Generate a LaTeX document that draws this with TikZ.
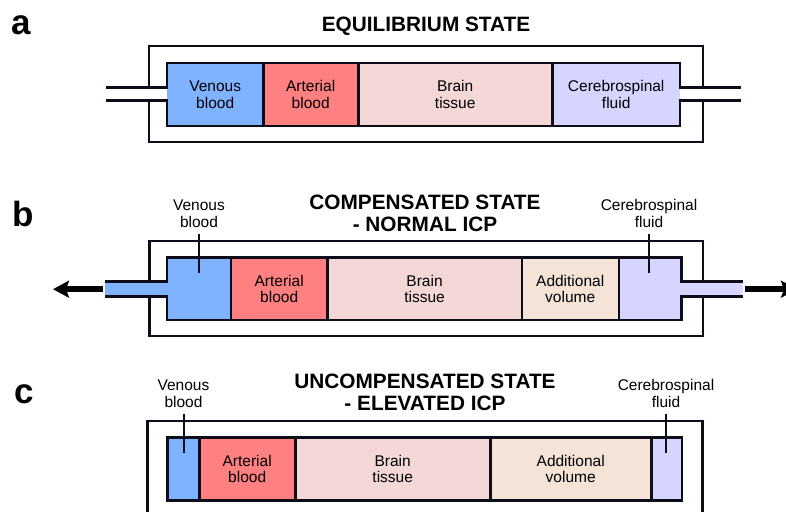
\documentclass[tikz,border=0pt]{standalone}
\usepackage{fontspec}
\setmainfont{Liberation Sans}
\usetikzlibrary{arrows.meta}

\definecolor{venous}{HTML}{80B3FF}
\definecolor{arterial}{HTML}{FF8080}
\definecolor{brain}{HTML}{F4D7D7}
\definecolor{csf}{HTML}{D5D5FF}
\definecolor{extra}{HTML}{F4E3D7}
\definecolor{ink}{HTML}{0D0D1A}

\begin{document}
\begin{tikzpicture}[
    x=1pt, y=-1pt,
    comp/.style={inner sep=0pt, anchor=north west, align=center,
                 font=\fontsize{15.5}{16.5}\selectfont},
    wall/.style={draw=ink, line width=2.5pt},
    divider/.style={draw=ink, line width=2.2pt},
    callout/.style={inner xsep=0pt, inner ysep=6pt, anchor=south, align=center,
                    font=\fontsize{15.5}{17}\selectfont},
    lead/.style={draw=ink, line width=2pt},
    title/.style={anchor=base, align=center, font=\bfseries\fontsize{20.8}{21.5}\selectfont},
    panel/.style={anchor=base, font=\bfseries\fontsize{35}{35}\selectfont},
    flow/.style={draw=black, line width=6pt, -{Stealth[length=16pt, width=17pt, inset=3pt]}}
]
    \path[use as bounding box, clip] (0,0) rectangle (786,511);

    % ---------- a: 平衡状态 ----------
    \node[panel] (la) at (21.5,35) {a};
    \node[title] (ta) at (426,32) {EQUILIBRIUM STATE};

    % 四个腔室
    \node[comp, fill=venous,   minimum width=96,  minimum height=63] (aVen) at (167,63) {Venous\\blood};
    \node[comp, fill=arterial, minimum width=95,  minimum height=63] (aArt) at (263,63) {Arterial\\blood};
    \node[comp, fill=brain,    minimum width=194, minimum height=63] (aBrn) at (358,63) {Brain\\tissue};
    \node[comp, fill=csf,      minimum width=128, minimum height=63] (aCsf) at (552,63) {Cerebrospinal\\fluid};

    % 分隔线
    \foreach \c in {aVen, aArt, aBrn}
        \draw[divider] (\c.north east) -- (\c.south east);

    % 外壁 (两侧留出管口)
    \draw[wall] (149,87.3) -- (149,46) -- (703,46) -- (703,87.3);
    \draw[wall] (149,100.7) -- (149,142) -- (703,142) -- (703,100.7);

    % 内壁和管道
    \draw[wall] (106,87.3) -- (167,87.3) -- (167,63) -- (680,63) -- (680,87.3) -- (741,87.3);
    \draw[wall] (106,100.7) -- (167,100.7) -- (167,126) -- (680,126) -- (680,100.7) -- (741,100.7);

    % ---------- b: 代偿状态 ----------
    \node[panel] (lb) at (23,226) {b};
    \node[title] (tb) at (425,231) {COMPENSATED STATE\\- NORMAL ICP};

    % 静脉血和脑脊液连同管道一起填充
    \fill[venous] (105,281.7) -- (167,281.7) -- (167,257.7) -- (231,257.7)
        -- (231,320) -- (167,320) -- (167,296.7) -- (105,296.7) -- cycle;
    \fill[csf] (618.3,257.7) -- (681.7,257.7) -- (681.7,281.7) -- (742.7,281.7)
        -- (742.7,296.7) -- (681.7,296.7) -- (681.7,320) -- (618.3,320) -- cycle;

    \node[comp, fill=arterial, minimum width=96,    minimum height=62.3] (bArt) at (231,257.7) {Arterial\\blood};
    \node[comp, fill=brain,    minimum width=194.7, minimum height=62.3] (bBrn) at (327,257.7) {Brain\\tissue};
    \node[comp, fill=extra,    minimum width=96.6,  minimum height=62.3] (bExt) at (521.7,257.7) {Additional\\volume};

    \draw[divider] (bArt.north west) -- (bArt.south west);
    \foreach \c in {bArt, bBrn, bExt}
        \draw[divider] (\c.north east) -- (\c.south east);

    \draw[wall] (149.3,281.7) -- (149.3,241) -- (703,241) -- (703,281.7);
    \draw[wall] (149.3,296.7) -- (149.3,336) -- (703,336) -- (703,296.7);

    \draw[wall] (105,281.7) -- (167,281.7) -- (167,257.7) -- (681.7,257.7) -- (681.7,281.7) -- (742.7,281.7);
    \draw[wall] (105,296.7) -- (167,296.7) -- (167,320) -- (681.7,320) -- (681.7,296.7) -- (742.7,296.7);

    % 标注
    \node[callout] (bVenLbl) at (199,234) {Venous\\blood};
    \node[callout] (bCsfLbl) at (649,234) {Cerebrospinal\\fluid};
    \coordinate (bVenTip) at (199,273);
    \coordinate (bCsfTip) at (649,273);
    \draw[lead] (bVenLbl) -- (bVenTip);
    \draw[lead] (bCsfLbl) -- (bCsfTip);

    % 流出箭头
    \coordinate (bOutL) at (103,289.2);
    \coordinate (bTipL) at (53,289.2);
    \coordinate (bOutR) at (745,289.2);
    \coordinate (bTipR) at (797,289.2);
    \draw[flow] (bOutL) -- (bTipL);
    \draw[flow] (bOutR) -- (bTipR);

    % ---------- c: 失代偿状态 ----------
    \node[panel] (lc) at (24,403) {c};
    \node[title] (tc) at (425,410) {UNCOMPENSATED STATE\\- ELEVATED ICP};

    \node[comp, fill=venous,   minimum width=31.3, minimum height=62.7] (cVen) at (167.7,437.3) {};
    \node[comp, fill=arterial, minimum width=96,   minimum height=62.7] (cArt) at (199,437.3) {Arterial\\blood};
    \node[comp, fill=brain,    minimum width=195,  minimum height=62.7] (cBrn) at (295,437.3) {Brain\\tissue};
    \node[comp, fill=extra,    minimum width=161,  minimum height=62.7] (cExt) at (490,437.3) {Additional\\volume};
    \node[comp, fill=csf,      minimum width=30.7, minimum height=62.7] (cCsf) at (651,437.3) {};

    \foreach \c in {cVen, cArt, cBrn, cExt}
        \draw[divider] (\c.north east) -- (\c.south east);

    \draw[wall] (147.3,515) -- (147.3,421) -- (702.7,421) -- (702.7,515);
    \draw[wall] (cVen.north west) rectangle (cCsf.south east);

    \node[callout] (cVenLbl) at (183.5,414) {Venous\\blood};
    \node[callout] (cCsfLbl) at (666,414) {Cerebrospinal\\fluid};
    \coordinate (cVenTip) at (183.5,453);
    \coordinate (cCsfTip) at (666,453);
    \draw[lead] (cVenLbl) -- (cVenTip);
    \draw[lead] (cCsfLbl) -- (cCsfTip);

\end{tikzpicture}
\end{document}
